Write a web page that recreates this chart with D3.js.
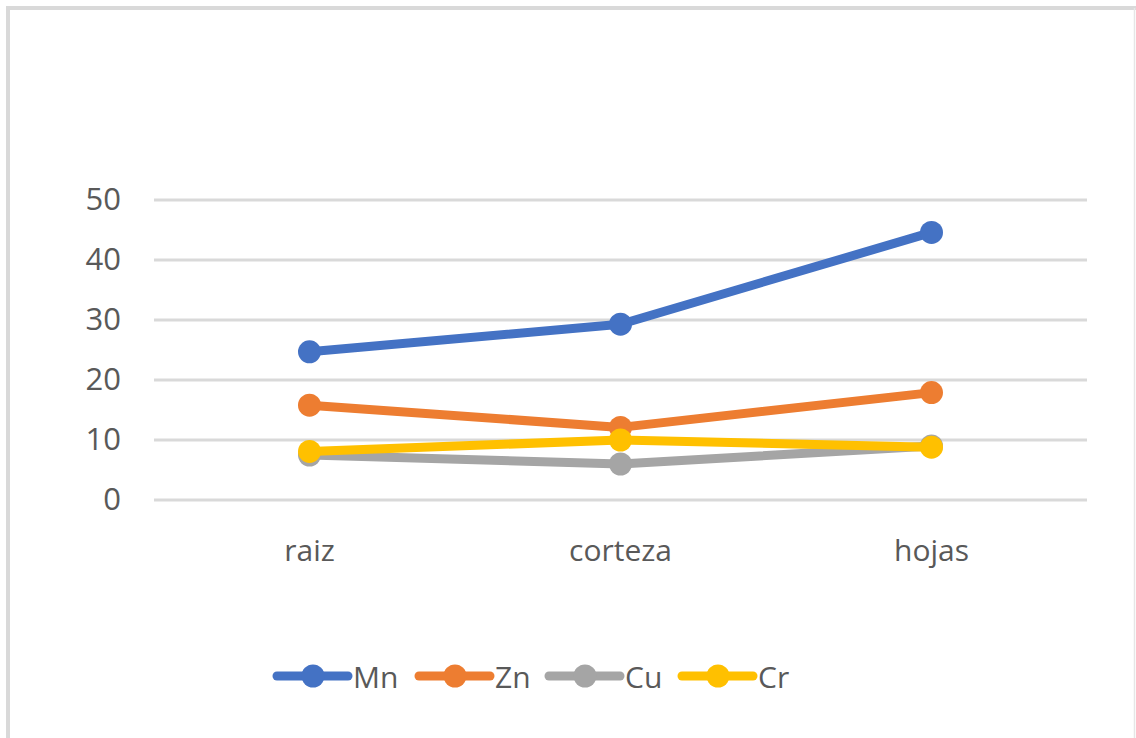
<!DOCTYPE html>
<html><head><meta charset="utf-8">
<script src="https://cdn.jsdelivr.net/npm/d3@7"></script>
<style>body{margin:0;background:#fff}svg{display:block}</style>
</head><body>
<svg id="c" width="1136" height="738"></svg>
<script>
const categories = ["raiz", "corteza", "hojas"];
const seriesNames = ["Mn", "Zn", "Cu", "Cr"];
const mnValues = [24.7, 29.3, 44.6];
const znValues = [15.8, 12.1, 17.9];
const cuValues = [7.5, 6.0, 9.0];
const crValues = [8.1, 10.0, 8.8];
const yTicks = [0, 10, 20, 30, 40, 50];
const colors = ["#4472C4", "#ED7D31", "#A5A5A5", "#FFC000"];

const series = [mnValues, znValues, cuValues, crValues].map((v, i) => ({name: seriesNames[i], values: v, color: colors[i]}));

const svg = d3.select("#c");
const font = "'Open Sans', sans-serif";
const textColor = "#595959";

// border (thick top/left, thin right)
svg.append("line").attr("x1", 6).attr("x2", 1136).attr("y1", 8).attr("y2", 8).attr("stroke", "#D9D9D9").attr("stroke-width", 4);
svg.append("line").attr("x1", 8).attr("x2", 8).attr("y1", 6).attr("y2", 738).attr("stroke", "#D9D9D9").attr("stroke-width", 4);
svg.append("line").attr("x1", 1134.5).attr("x2", 1134.5).attr("y1", 8).attr("y2", 738).attr("stroke", "#E6E6E6").attr("stroke-width", 1.5);

const x = d3.scaleBand().domain(categories).range([154, 1087]);
const y = d3.scaleLinear().domain([0, 50]).range([500, 200]);

// gridlines
svg.append("g").selectAll("line").data(yTicks).join("line")
  .attr("x1", 154).attr("x2", 1087)
  .attr("y1", d => y(d)).attr("y2", d => y(d))
  .attr("stroke", "#D9D9D9").attr("stroke-width", 3);

// y axis labels
const yAxis = svg.append("g").attr("transform", "translate(121,0)")
  .call(d3.axisLeft(y).tickValues(yTicks).tickSize(0).tickPadding(0));
yAxis.select(".domain").remove();
yAxis.selectAll("text").attr("font-family", font).attr("font-size", 31).attr("fill", textColor);

// x axis labels
const xAxis = svg.append("g").attr("transform", "translate(0,534)")
  .call(d3.axisBottom(x).tickSize(0).tickPadding(0));
xAxis.select(".domain").remove();
xAxis.selectAll("text").attr("font-family", font).attr("font-size", 30).attr("fill", textColor).attr("dy", "0.9em");

const cx = c => x(c) + x.bandwidth() / 2;
const line = d3.line().x((d, i) => cx(categories[i])).y(d => y(d));

const g = svg.append("g");
series.forEach(s => {
  g.append("path").datum(s.values).attr("d", line)
    .attr("fill", "none").attr("stroke", s.color).attr("stroke-width", 9)
    .attr("stroke-linejoin", "round").attr("stroke-linecap", "round");
  g.selectAll(null).data(s.values).join("circle")
    .attr("cx", (d, i) => cx(categories[i])).attr("cy", d => y(d))
    .attr("r", 11.5).attr("fill", s.color);
});

// legend
const legendX = [277, 419, 549, 682];
const legendY = 676;
const lg = svg.append("g");
series.forEach((s, i) => {
  const lx = legendX[i];
  lg.append("line").attr("x1", lx).attr("x2", lx + 71).attr("y1", legendY).attr("y2", legendY)
    .attr("stroke", s.color).attr("stroke-width", 9).attr("stroke-linecap", "round");
  lg.append("circle").attr("cx", lx + 36).attr("cy", legendY).attr("r", 11.5).attr("fill", s.color);
  lg.append("text").attr("x", lx + 76).attr("y", legendY + 12)
    .attr("font-family", font).attr("font-size", 30).attr("fill", textColor).text(s.name);
});
</script>
</body></html>
